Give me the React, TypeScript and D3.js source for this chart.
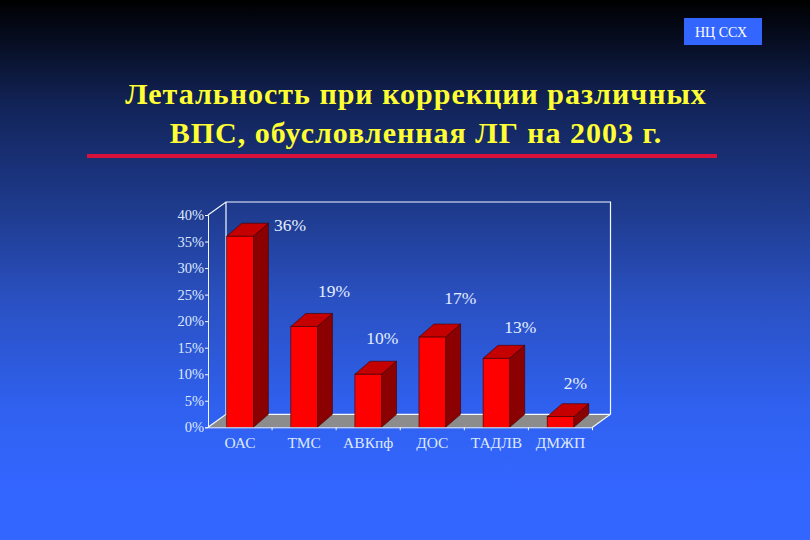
import { useEffect, useRef } from "react"
import * as d3 from "d3"

const categories = ["ОАС", "ТМС", "АВКпф", "ДОС", "ТАДЛВ", "ДМЖП"]
const values = [36, 19, 10, 17, 13, 2]
const yTicks = [0, 5, 10, 15, 20, 25, 30, 35, 40]
const titleLines = ["Летальность при коррекции различных", "ВПС, обусловленная ЛГ на 2003 г."]
const badge = "НЦ ССХ"

const width = 810
const height = 540
const serif = "'Liberation Serif', serif"

export default function App() {
    const svgRef = useRef<SVGSVGElement>(null)

    useEffect(() => {
        const svg = d3.select(svgRef.current)
        svg.selectAll("*").remove()

        const defs = svg.append("defs")
        const grad = defs.append("linearGradient")
            .attr("id", "bg")
            .attr("x1", 0).attr("y1", 0).attr("x2", 0).attr("y2", 1)
        grad.append("stop").attr("offset", "0%").attr("stop-color", "#000000")
        grad.append("stop").attr("offset", "20%").attr("stop-color", "#12245a")
        grad.append("stop").attr("offset", "40%").attr("stop-color", "#1f3c90")
        grad.append("stop").attr("offset", "55%").attr("stop-color", "#2a50c0")
        grad.append("stop").attr("offset", "75%").attr("stop-color", "#2f60ee")
        grad.append("stop").attr("offset", "90%").attr("stop-color", "#3366ff")

        svg.append("rect").attr("width", width).attr("height", height).attr("fill", "url(#bg)")

        // шапка
        svg.append("rect")
            .attr("x", 684).attr("y", 18).attr("width", 78).attr("height", 27)
            .attr("fill", "#3366ff")
        svg.append("text")
            .attr("x", 721).attr("y", 36.5)
            .attr("text-anchor", "middle")
            .attr("fill", "#fff")
            .attr("font-family", serif)
            .attr("font-size", 14)
            .text(badge)

        svg.selectAll("text.title")
            .data(titleLines)
            .join("text")
            .attr("class", "title")
            .attr("x", 416)
            .attr("y", (_, i) => 104 + i * 39)
            .attr("text-anchor", "middle")
            .attr("fill", "#ffff33")
            .attr("font-family", serif)
            .attr("font-weight", "bold")
            .attr("font-size", 30)
            .attr("letter-spacing", 1)
            .text(d => d)

        svg.append("line")
            .attr("x1", 87).attr("x2", 717).attr("y1", 156).attr("y2", 156)
            .attr("stroke", "#d8103c").attr("stroke-width", 4)

        // сам график
        const x = d3.scaleBand<string>()
            .domain(categories)
            .range([208, 592.5])
            .paddingInner(0.585)
            .paddingOuter(0.2925)
        const y = d3.scaleLinear().domain([0, 40]).range([427.3, 215])

        const wallDx = 18
        const wallDy = -13
        const barDx = 15
        const barDy = -13

        const [x0, x1] = x.range()
        const base = y(0)
        const top = y(40)
        const chartLine = "#f4f8ff"

        svg.append("polygon")
            .attr("points", [
                [x0, base], [x0 + wallDx, base + wallDy],
                [x1 + wallDx, base + wallDy], [x1, base],
            ].join(" "))
            .attr("fill", "#8c8c8c")

        const wall = d3.path()
        wall.moveTo(x0, top)
        wall.lineTo(x0 + wallDx, top + wallDy)
        wall.lineTo(x1 + wallDx, top + wallDy)
        wall.lineTo(x1 + wallDx, base + wallDy)
        wall.lineTo(x1, base)
        wall.moveTo(x1 + wallDx, base + wallDy)
        wall.lineTo(x0 + wallDx, base + wallDy)
        wall.lineTo(x0, base)
        wall.moveTo(x0 + wallDx, base + wallDy)
        wall.lineTo(x0 + wallDx, top + wallDy)
        svg.append("path")
            .attr("d", wall.toString())
            .attr("fill", "none")
            .attr("stroke", chartLine)
            .attr("stroke-width", 1.2)

        const bars = svg.append("g")
            .selectAll("g")
            .data(categories)
            .join("g")

        const bw = x.bandwidth()
        const barEdge = "#3a0000"

        bars.append("polygon") // боковая грань
            .attr("points", d => {
                const bx = x(d)! + bw
                const by = y(values[categories.indexOf(d)])
                return [[bx, by], [bx + barDx, by + barDy], [bx + barDx, base + barDy], [bx, base]].join(" ")
            })
            .attr("fill", "#8b0000")
            .attr("stroke", barEdge)
            .attr("stroke-width", 0.6)

        bars.append("polygon") // верх
            .attr("points", d => {
                const bx = x(d)!
                const by = y(values[categories.indexOf(d)])
                return [[bx, by], [bx + barDx, by + barDy], [bx + bw + barDx, by + barDy], [bx + bw, by]].join(" ")
            })
            .attr("fill", "#c40000")
            .attr("stroke", barEdge)
            .attr("stroke-width", 0.6)

        bars.append("rect")
            .attr("x", d => x(d)!)
            .attr("y", d => y(values[categories.indexOf(d)]))
            .attr("width", bw)
            .attr("height", d => base - y(values[categories.indexOf(d)]))
            .attr("fill", "#ff0000")
            .attr("stroke", barEdge)
            .attr("stroke-width", 0.6)

        // подписи сдвинуты вручную, как на слайде
        const labelShift = [[50, -5], [30, -29], [14, -30], [28, -33], [24, -25], [15, -28]]
        svg.append("g")
            .selectAll("text")
            .data(categories)
            .join("text")
            .attr("x", (d, i) => x(d)! + bw / 2 + labelShift[i][0])
            .attr("y", (_, i) => y(values[i]) + labelShift[i][1])
            .attr("text-anchor", "middle")
            .attr("fill", "#e4eeff")
            .attr("font-family", serif)
            .attr("font-size", 17.5)
            .text((_, i) => `${values[i]}%`)

        // оси
        const yAxis = svg.append("g")
            .attr("transform", `translate(${x0},0)`)
            .call(d3.axisLeft(y).tickValues(yTicks).tickFormat(d => `${d}%`).tickSize(3).tickPadding(1))
        yAxis.select(".domain").attr("stroke", chartLine)
        yAxis.selectAll(".tick line").attr("stroke", chartLine)
        yAxis.selectAll("text")
            .attr("fill", "#dde8ff")
            .attr("font-family", serif)
            .attr("font-size", 14.5)

        const xAxis = svg.append("g")
            .attr("transform", `translate(0,${base})`)
            .call(d3.axisBottom(x).tickSize(0).tickPadding(10))
        xAxis.select(".domain").attr("stroke", chartLine)
        xAxis.selectAll("text")
            .attr("fill", "#dde8ff")
            .attr("font-family", serif)
            .attr("font-size", 15.5)
        xAxis.selectAll("line.sep")
            .data(categories)
            .join("line")
            .attr("class", "sep")
            .attr("x1", d => x(d)! + bw + x.step() * x.paddingInner() / 2)
            .attr("x2", d => x(d)! + bw + x.step() * x.paddingInner() / 2)
            .attr("y1", 0)
            .attr("y2", 3)
            .attr("stroke", chartLine)
    }, [])

    return (
        <svg
            ref={svgRef}
            width={width}
            height={height}
            viewBox={`0 0 ${width} ${height}`}
            style={{ position: "fixed", left: 0, top: 0 }}
        ></svg>
    )
}
